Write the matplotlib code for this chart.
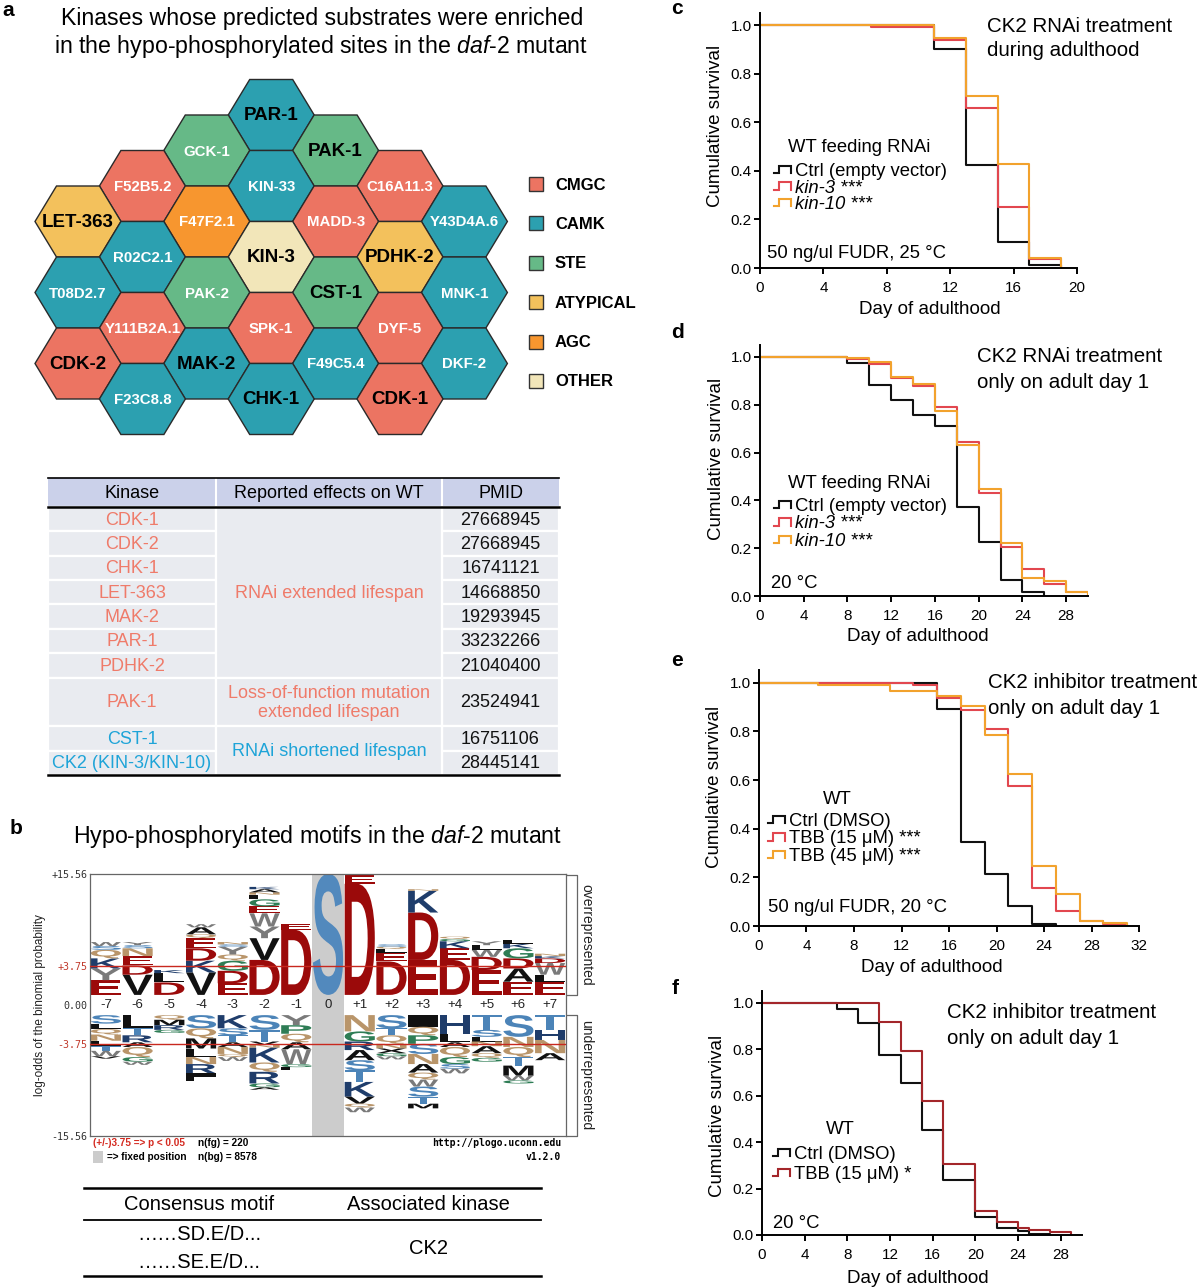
import numpy as np
import matplotlib
matplotlib.use('Agg')
import matplotlib.pyplot as plt
from matplotlib.patches import Polygon, Rectangle, PathPatch
from matplotlib.textpath import TextPath
from matplotlib.font_manager import FontProperties, fontManager
from matplotlib.transforms import Affine2D
from matplotlib.lines import Line2D
from matplotlib.legend_handler import HandlerBase
from matplotlib.ticker import FormatStrFormatter

_names = {f.name for f in fontManager.ttflist}
NARROW_OK = 'Liberation Sans Narrow' in _names
plt.rcParams['font.family'] = ['Liberation Sans', 'DejaVu Sans']
plt.rcParams['mathtext.fontset'] = 'custom'
plt.rcParams['mathtext.rm'] = 'Liberation Sans Narrow' if NARROW_OK else 'Liberation Sans'
plt.rcParams['mathtext.it'] = ('Liberation Sans Narrow:italic' if NARROW_OK else 'Liberation Sans:italic')
NARROW = ['Liberation Sans Narrow', 'Liberation Sans', 'DejaVu Sans'] if NARROW_OK else ['Liberation Sans', 'DejaVu Sans']

# ======================= DATA =======================
# --- panel a: kinase hexagon map ---
hex_names = ['PAR-1', 'GCK-1', 'PAK-1', 'F52B5.2', 'KIN-33', 'C16A11.3', 'LET-363', 'F47F2.1', 'MADD-3',
             'Y43D4A.6', 'R02C2.1', 'KIN-3', 'PDHK-2', 'T08D2.7', 'PAK-2', 'CST-1', 'MNK-1', 'Y111B2A.1',
             'SPK-1', 'DYF-5', 'CDK-2', 'MAK-2', 'F49C5.4', 'DKF-2', 'F23C8.8', 'CHK-1', 'CDK-1']
hex_col = [3, 2, 4, 1, 3, 5, 0, 2, 4, 6, 1, 3, 5, 0, 2, 4, 6, 1, 3, 5, 0, 2, 4, 6, 1, 3, 5]
hex_row = [0, 1, 1, 2, 2, 2, 3, 3, 3, 3, 4, 4, 4, 5, 5, 5, 5, 6, 6, 6, 7, 7, 7, 7, 8, 8, 8]
hex_family = ['CAMK', 'STE', 'STE', 'CMGC', 'CAMK', 'CMGC', 'ATYPICAL', 'AGC', 'CMGC',
              'CAMK', 'CAMK', 'OTHER', 'ATYPICAL', 'CAMK', 'STE', 'STE', 'CAMK', 'CMGC',
              'CMGC', 'CMGC', 'CMGC', 'CAMK', 'CAMK', 'CAMK', 'CAMK', 'CAMK', 'CMGC']
hex_bold = ['PAR-1', 'PAK-1', 'LET-363', 'KIN-3', 'PDHK-2', 'CST-1', 'CDK-2', 'MAK-2', 'CHK-1', 'CDK-1']
families = ['CMGC', 'CAMK', 'STE', 'ATYPICAL', 'AGC', 'OTHER']
family_colors = ['#EC7462', '#2CA0B0', '#66B987', '#F3C15C', '#F7962F', '#F2E6B9']

# --- panel a: table ---
table_header = ['Kinase', 'Reported effects on WT', 'PMID']
table_kinases = ['CDK-1', 'CDK-2', 'CHK-1', 'LET-363', 'MAK-2', 'PAR-1', 'PDHK-2', 'PAK-1', 'CST-1',
                 'CK2 (KIN-3/KIN-10)']
table_pmids = ['27668945', '27668945', '16741121', '14668850', '19293945', '33232266', '21040400',
               '23524941', '16751106', '28445141']
table_row_units = [1, 1, 1, 1, 1, 1, 1, 2, 1, 1]
table_kinase_group = ['ext', 'ext', 'ext', 'ext', 'ext', 'ext', 'ext', 'ext', 'short', 'short']
table_effects = [('RNAi extended lifespan', 0, 7, 'ext'),
                 ('Loss-of-function mutation\nextended lifespan', 7, 8, 'ext'),
                 ('RNAi shortened lifespan', 8, 10, 'short')]

# --- panel b: pLogo (letter, log-odds height); over = stacked upward, under = stacked downward ---
logo_positions = ['-7', '-6', '-5', '-4', '-3', '-2', '-1', '0', '+1', '+2', '+3', '+4', '+5', '+6', '+7']
logo_over = [
    [('E', 1.9), ('Y', 1.5), ('K', 1.3), ('Q', 1.1), ('S', 0.5), ('W', 0.5)],
    [('V', 2.6), ('D', 1.2), ('E', 1.2), ('N', 1.0), ('S', 0.4), ('Y', 0.4)],
    [('D', 1.6), ('L', 1.2), ('K', 0.4)],
    [('V', 2.9), ('K', 1.5), ('D', 1.6), ('E', 1.3), ('Q', 0.5), ('A', 0.9), ('W', 0.4)],
    [('E', 1.5), ('D', 1.6), ('G', 1.3), ('Q', 0.8), ('Y', 1.0), ('S', 0.3), ('N', 0.3)],
    [('D', 4.5), ('V', 2.8), ('Y', 1.5), ('W', 1.7), ('E', 0.9), ('G', 0.9), ('L', 0.6), ('N', 0.3),
     ('A', 0.4), ('K', 0.3)],
    [('D', 8.4), ('E', 0.7)],
    [('S', 15.56)],
    [('D', 14.3), ('E', 1.1)],
    [('D', 4.3), ('E', 1.1), ('L', 0.5), ('Q', 0.3), ('S', 0.3)],
    [('E', 4.5), ('D', 6.1), ('K', 2.8), ('N', 0.2)],
    [('D', 4.5), ('E', 1.5), ('K', 0.9), ('G', 0.3), ('Q', 0.3)],
    [('E', 3.2), ('D', 1.7), ('W', 0.9), ('L', 0.6), ('Y', 0.5)],
    [('E', 1.7), ('A', 1.7), ('D', 1.3), ('G', 1.3), ('K', 0.6), ('L', 0.5)],
    [('E', 1.7), ('L', 0.9), ('W', 1.5), ('D', 0.6), ('K', 0.3), ('N', 0.3)],
]
logo_under = [
    [('S', 1.1), ('L', 0.7), ('Q', 0.7), ('N', 0.8), ('L', 0.7), ('T', 0.6), ('W', 0.7), ('V', 0.3)],
    [('L', 1.7), ('T', 0.9), ('R', 0.9), ('A', 0.6), ('Q', 1.3), ('G', 0.6), ('W', 0.4)],
    [('Q', 0.6), ('M', 0.7), ('R', 0.6), ('G', 0.4)],
    [('S', 1.7), ('Q', 1.3), ('M', 1.3), ('L', 1.1), ('N', 0.9), ('R', 1.2), ('I', 0.5), ('L', 0.5)],
    [('K', 1.7), ('S', 0.9), ('T', 0.9), ('A', 0.6), ('N', 0.9), ('Q', 0.4), ('W', 0.5)],
    [('S', 1.9), ('T', 1.5), ('V', 0.4), ('N', 0.4), ('K', 1.9), ('Q', 1.2), ('R', 1.5), ('G', 0.5),
     ('A', 0.3)],
    [('Y', 1.3), ('P', 1.1), ('Q', 1.1), ('A', 0.9), ('W', 1.9), ('G', 0.4), ('L', 0.4)],
    [],
    [('N', 2.1), ('G', 1.3), ('R', 1.1), ('A', 1.3), ('S', 1.3), ('T', 1.5), ('K', 1.9), ('V', 0.9),
     ('Q', 0.5), ('W', 0.6)],
    [('S', 1.7), ('T', 0.9), ('Q', 1.1), ('N', 0.6), ('X', 0.6), ('G', 0.4), ('W', 0.4)],
    [('I', 1.5), ('Q', 1.1), ('P', 1.1), ('S', 1.3), ('N', 1.3), ('A', 1.1), ('Q', 0.9), ('W', 0.9),
     ('S', 1.3), ('T', 0.9), ('M', 0.6)],
    [('H', 2.4), ('L', 1.1), ('A', 0.6), ('Q', 1.3), ('G', 0.9), ('S', 0.6), ('W', 0.6)],
    [('T', 1.9), ('S', 0.9), ('L', 0.6), ('N', 0.6), ('A', 0.9), ('Q', 0.6), ('G', 0.5)],
    [('S', 2.8), ('N', 1.3), ('Q', 1.3), ('T', 1.1), ('M', 1.3), ('W', 0.6), ('G', 0.4)],
    [('T', 1.9), ('H', 1.3), ('N', 1.7), ('A', 0.9)],
]
logo_max = 15.56
logo_sig = 3.75
motif_rows = ['……SD.E/D...', '……SE.E/D...']
motif_kinase = 'CK2'

# --- panels c-f: survival curves (Kaplan-Meier steps) ---
c_ctrl_d = [0, 11, 13, 15, 17, 19];            c_ctrl = [1.0, 0.90, 0.425, 0.105, 0.014, 0.0]
c_kin3_d = [0, 7, 11, 13, 15, 17, 19];         c_kin3 = [1.0, 0.993, 0.94, 0.66, 0.25, 0.035, 0.0]
c_kin10_d = [0, 11, 13, 15, 17, 19];           c_kin10 = [1.0, 0.945, 0.71, 0.43, 0.04, 0.0]

d_ctrl_d = [0, 8, 10, 12, 14, 16, 18, 20, 22, 24, 26]
d_ctrl = [1.0, 0.976, 0.884, 0.821, 0.759, 0.712, 0.373, 0.224, 0.069, 0.015, 0.0]
d_kin_d = [0, 8, 10, 12, 14, 16, 18, 20, 22, 24, 26, 28, 30]
d_kin3 = [1.0, 0.99, 0.97, 0.91, 0.88, 0.79, 0.646, 0.43, 0.203, 0.113, 0.052, 0.017, 0.0]
d_kin10 = [1.0, 0.997, 0.977, 0.918, 0.885, 0.772, 0.631, 0.447, 0.222, 0.075, 0.062, 0.017, 0.0]

e_ctrl_d = [0, 15, 17, 19, 21, 23, 25];        e_ctrl = [1.0, 0.89, 0.345, 0.214, 0.082, 0.01, 0.0]
e_15_d = [0, 13, 15, 17, 19, 21, 23, 25, 27, 29, 31]
e_15 = [1.0, 0.99, 0.936, 0.888, 0.808, 0.575, 0.155, 0.063, 0.02, 0.01, 0.0]
e_45_d = [0, 5, 11, 15, 17, 19, 21, 23, 25, 27, 29, 31]
e_45 = [1.0, 0.99, 0.967, 0.947, 0.904, 0.785, 0.623, 0.247, 0.13, 0.02, 0.011, 0.0]

f_ctrl_d = [0, 7, 9, 11, 13, 15, 17, 20, 22, 24, 25, 27]
f_ctrl = [1.0, 0.971, 0.911, 0.776, 0.656, 0.452, 0.237, 0.079, 0.029, 0.017, 0.006, 0.0]
f_tbb_d = [0, 11, 13, 15, 17, 20, 22, 24, 25, 27, 29]
f_tbb = [1.0, 0.915, 0.79, 0.575, 0.304, 0.105, 0.057, 0.03, 0.023, 0.014, 0.0]

# ======================= STYLE =======================
W, H = 1200, 1287
SALMON = '#EF7B6A'
CYAN = '#1EA4D8'
BLACK = '#111111'
RED = '#E2474F'
ORANGE = '#F2A22D'
DARKRED = '#A3262A'
res_color = {'D': '#9B0A0A', 'E': '#9B0A0A', 'K': '#1F3D6B', 'R': '#1F3D6B', 'H': '#1F3D6B',
             'S': '#4C84B8', 'T': '#4C84B8', 'N': '#B9956A', 'Q': '#B9956A', 'G': '#2E7D55',
             'P': '#2E7D55', 'A': '#111111', 'V': '#111111', 'L': '#111111', 'I': '#111111',
             'M': '#111111', 'X': '#111111', 'Y': '#7A7A7A', 'W': '#7A7A7A'}

fig = plt.figure(figsize=(W / 100, H / 100), dpi=100)
canvas = fig.add_axes([0, 0, 1, 1])
canvas.set_xlim(0, W)
canvas.set_ylim(H, 0)
canvas.axis('off')


def add_ax_px(left, top, right, bottom):
    return fig.add_axes([left / W, 1 - bottom / H, (right - left) / W, (bottom - top) / H])


def fit_width(t, target):
    r = fig.canvas.get_renderer()
    w = t.get_window_extent(r).width
    t.set_fontsize(t.get_fontsize() * target / w)


# ---------------- panel labels ----------------
for lab, (lx, ly) in zip('abcdef', [(8, 10), (16, 828), (677, 8), (677, 333), (677, 660), (675, 988)]):
    canvas.text(lx, ly, lab, fontsize=15, fontweight='bold', ha='center', va='center')

# ---------------- panel a title ----------------
t1 = canvas.text(322, 18, 'Kinases whose predicted substrates were enriched', ha='center', va='center',
                 fontsize=16, family=NARROW)
t2 = canvas.text(321, 46, r'in the hypo-phosphorylated sites in the $\mathit{daf}$-$\mathit{2}$ mutant',
                 ha='center', va='center', fontsize=16, family=NARROW)
fit_width(t1, 523)
fit_width(t2, 534)

# ---------------- hexagons ----------------
hx0, hdx, hy0, hdy = 78, 64.4, 115, 35.5
R, HH = 43, 35.5
fam_col = dict(zip(families, family_colors))
for name, c, r, fam in zip(hex_names, hex_col, hex_row, hex_family):
    cx, cy = hx0 + c * hdx, hy0 + r * hdy
    verts = [(cx - R, cy), (cx - R / 2, cy - HH), (cx + R / 2, cy - HH), (cx + R, cy),
             (cx + R / 2, cy + HH), (cx - R / 2, cy + HH)]
    canvas.add_patch(Polygon(verts, closed=True, fc=fam_col[fam], ec='#2A2A2A', lw=1.0))
    if name in hex_bold:
        canvas.text(cx, cy + 1, name, ha='center', va='center', fontsize=13.5, fontweight='bold', color='black')
    else:
        canvas.text(cx, cy + 1, name, ha='center', va='center', fontsize=10.8, fontweight='bold', color='white')

for i, (fam, colr) in enumerate(zip(families, family_colors)):
    yy = 184 + i * 39.4
    canvas.add_patch(Rectangle((529, yy - 7), 14, 14, fc=colr, ec='#333333', lw=1.0))
    canvas.text(555, yy + 1, fam, ha='left', va='center', fontsize=12, fontweight='bold')

# ---------------- table a ----------------
tx = [48, 216, 442, 559]
th_top, th_bot, t_bot = 478, 507, 775
unit = (t_bot - th_bot) / sum(table_row_units)
canvas.add_patch(Rectangle((tx[0], th_top), tx[3] - tx[0], th_bot - th_top, fc='#CBD1EA', ec='none'))
for j, hd in enumerate(table_header):
    canvas.text((tx[j] + tx[j + 1]) / 2, (th_top + th_bot) / 2 + 1, hd, ha='center', va='center', fontsize=13)
    if j > 0:
        canvas.plot([tx[j], tx[j]], [th_top, th_bot], color='white', lw=1.5)
row_tops = th_bot + unit * np.concatenate([[0], np.cumsum(table_row_units)])
CELL = '#E9EBF0'
grp_col = {'ext': SALMON, 'short': CYAN}
for i, (kn, pm, grp) in enumerate(zip(table_kinases, table_pmids, table_kinase_group)):
    y0, y1 = row_tops[i], row_tops[i + 1]
    for (xa, xb) in [(tx[0], tx[1]), (tx[2], tx[3])]:
        canvas.add_patch(Rectangle((xa, y0), xb - xa, y1 - y0, fc=CELL, ec='white', lw=1.6))
    canvas.text((tx[0] + tx[1]) / 2, (y0 + y1) / 2 + 1, kn, ha='center', va='center', fontsize=13,
                color=grp_col[grp])
    canvas.text((tx[2] + tx[3]) / 2, (y0 + y1) / 2 + 1, pm, ha='center', va='center', fontsize=13, color=BLACK)
for txt, a, b, grp in table_effects:
    y0, y1 = row_tops[a], row_tops[b]
    canvas.add_patch(Rectangle((tx[1], y0), tx[2] - tx[1], y1 - y0, fc=CELL, ec='white', lw=1.6))
    canvas.text((tx[1] + tx[2]) / 2, (y0 + y1) / 2 + 1, txt, ha='center', va='center', fontsize=13,
                color=grp_col[grp], linespacing=1.2)
canvas.plot([tx[0], tx[3]], [th_top, th_top], color='black', lw=1.2)
canvas.plot([tx[0], tx[3]], [th_bot, th_bot], color='black', lw=1.8)
canvas.plot([tx[0], tx[3]], [t_bot, t_bot], color='black', lw=1.8)

# ---------------- panel b title ----------------
tb = canvas.text(318, 837, r'Hypo-phosphorylated motifs in the $\mathit{daf}$-$\mathit{2}$ mutant',
                 ha='center', va='center', fontsize=16, family=NARROW)
fit_width(tb, 489)

# ---------------- pLogo ----------------
G = 1.3
lax = add_ax_px(90, 874, 566, 1136)
lax.set_xlim(-7.5, 7.5)
lax.set_ylim(-(logo_max + G), logo_max + G)
lax.patch.set_alpha(0)
for s in lax.spines.values():
    s.set_color('#666666')
    s.set_linewidth(0.9)
lax.set_xticks([])
lax.set_yticks([logo_max + G, logo_sig + G, 0, -logo_sig - G, -logo_max - G])
lax.set_yticklabels(['+15.56', '+3.75', '0.00', '-3.75', '-15.56'], family='DejaVu Sans Mono', fontsize=7.2)
for tl, cc in zip(lax.get_yticklabels(), ['#333333', '#C0392B', '#333333', '#C0392B', '#333333']):
    tl.set_color(cc)
lax.tick_params(axis='y', length=0, pad=2)
xpos = np.arange(-7, 8)
lax.axvspan(-0.5, 0.5, color='#CCCCCC', lw=0, zorder=0)
LFP = FontProperties(family='Liberation Sans', weight='bold')
_pc = {}


def draw_letter(ax, ch, xc, y0, h, color, wfrac=0.95):
    if ch not in _pc:
        _pc[ch] = TextPath((0, 0), ch, size=1, prop=LFP)
    tp = _pc[ch]
    ext = tp.get_extents()
    tr = Affine2D().translate(-ext.x0, -ext.y0).scale(wfrac / ext.width, h / ext.height).translate(xc - wfrac / 2, y0)
    ax.add_patch(PathPatch(tr.transform_path(tp), fc=color, ec='none', lw=0, zorder=2))


for xp, lab, over, under in zip(xpos, logo_positions, logo_over, logo_under):
    cur = G
    for ch, h in over:
        colr = '#5289BD' if lab == '0' else res_color[ch]
        draw_letter(lax, ch, xp, cur, h, colr)
        cur += h
    cur = -G
    for ch, h in under:
        draw_letter(lax, ch, xp, cur - h, h, res_color[ch])
        cur -= h
    lax.text(xp, 0, lab, ha='center', va='center', fontsize=9.5, color='#222222')
lax.axhline(logo_sig + G, color='#C8281E', lw=1.0, zorder=3)
lax.axhline(-logo_sig - G, color='#C8281E', lw=1.0, zorder=3)
lax.text(-0.105, 0.5, 'log-odds of the binomial probability', transform=lax.transAxes, rotation=90,
         ha='center', va='center', fontsize=8.5, color='#222222')

# brackets
for (ya, yb), lab in zip([(875, 995), (1015, 1136)], ['overrepresented', 'underrepresented']):
    canvas.plot([567, 577, 577, 567], [ya, ya, yb, yb], color='#666666', lw=0.9)
    canvas.text(586, (ya + yb) / 2, lab, rotation=-90, ha='center', va='center', fontsize=10, color='#222222')

canvas.text(93, 1143, '(+/-)3.75 => p < 0.05', color='#D42A20', fontsize=7.2, fontweight='bold',
            ha='left', va='center', family=NARROW)
canvas.text(198, 1143, 'n(fg) = 220', fontsize=7.2, fontweight='bold', ha='left', va='center', family=NARROW)
canvas.add_patch(Rectangle((93, 1151), 10, 12, fc='#CCCCCC', ec='none'))
canvas.text(107, 1157, '=> fixed position', fontsize=7.2, fontweight='bold', ha='left', va='center', family=NARROW)
canvas.text(198, 1157, 'n(bg) = 8578', fontsize=7.2, fontweight='bold', ha='left', va='center', family=NARROW)
canvas.text(561, 1143, 'http://plogo.uconn.edu', fontsize=7, fontweight='bold', ha='right', va='center',
            family='DejaVu Sans Mono')
canvas.text(561, 1157, 'v1.2.0', fontsize=7, fontweight='bold', ha='right', va='center', family='DejaVu Sans Mono')

# motif table
canvas.plot([84, 541], [1188, 1188], color='black', lw=1.8)
canvas.plot([84, 541], [1220, 1220], color='black', lw=1.3)
canvas.plot([84, 541], [1276, 1276], color='black', lw=1.8)
canvas.text(199, 1205, 'Consensus motif', ha='center', va='center', fontsize=14.5)
canvas.text(428, 1205, 'Associated kinase', ha='center', va='center', fontsize=14.5)
for k, m in enumerate(motif_rows):
    canvas.text(199, 1235 + 27 * k, m, ha='center', va='center', fontsize=14.5)
canvas.text(428, 1248, motif_kinase, ha='center', va='center', fontsize=14.5)


# ---------------- survival panels ----------------
class StepGlyph(HandlerBase):
    def create_artists(self, legend, orig_handle, xdescent, ydescent, width, height, fontsize, trans):
        xs = np.array([0.0, 0.33, 0.33, 1.0, 1.0]) * width - xdescent
        ys = np.array([0.22, 0.22, 0.80, 0.80, 0.22]) * height - ydescent
        ln = Line2D(xs, ys, color=orig_handle.get_color(), lw=orig_handle.get_linewidth(),
                    solid_joinstyle='miter')
        ln.set_transform(trans)
        return [ln]


def surv_axes(box, xmax, ylab_px, xlab_px):
    left, top, right, bottom = box
    ax = add_ax_px(left, top, right, bottom)
    ax.set_xlim(0, xmax)
    ax.set_ylim(0, 1.05)
    ax.patch.set_alpha(0)
    ax.spines[['top', 'right']].set_visible(False)
    for s in ['left', 'bottom']:
        ax.spines[s].set_linewidth(1.4)
    ax.set_xticks(np.arange(0, xmax + 0.1, 4))
    ax.set_yticks([0, 0.2, 0.4, 0.6, 0.8, 1.0])
    ax.yaxis.set_major_formatter(FormatStrFormatter('%.1f'))
    ax.tick_params(direction='out', length=4, width=1.4, labelsize=11)
    ax.tick_params(axis='x', pad=5.5)
    ax.tick_params(axis='y', pad=2)
    ax.set_ylabel('Cumulative survival', fontsize=13.5)
    ax.set_xlabel('Day of adulthood', fontsize=13.5)
    # label anchor: ylabel right edge / xlabel top edge
    ax.yaxis.set_label_coords((ylab_px[0] + 11 - left) / (right - left), (bottom - ylab_px[1]) / (bottom - top))
    ax.xaxis.set_label_coords((xlab_px[0] - left) / (right - left), (bottom - (xlab_px[1] - 7)) / (bottom - top))
    return ax


def surv_legend(ax, handles, labels, left_px, top_px, spacing, italic=()):
    leg = ax.legend(handles, labels, loc='upper left', bbox_to_anchor=(left_px / W, 1 - top_px / H),
                    bbox_transform=fig.transFigure, frameon=False, borderpad=0, borderaxespad=0,
                    handlelength=0.9, handletextpad=0.22, handleheight=0.7, labelspacing=spacing,
                    fontsize=13.3, handler_map={Line2D: StepGlyph()})
    for i in italic:
        leg.get_texts()[i].set_fontstyle('italic')
    return leg


def titles(x, ys, lines):
    for y, s in zip(ys, lines):
        canvas.text(x, y, s, ha='left', va='center', fontsize=14.8)


LW = 1.5
# c
axc = surv_axes((760, 12.9, 1077, 268), 20, (713, 126), (930, 308))
hc = [axc.step(c_ctrl_d, c_ctrl, where='post', color=BLACK, lw=LW)[0],
      axc.step(c_kin3_d, c_kin3, where='post', color=RED, lw=LW)[0],
      axc.step(c_kin10_d, c_kin10, where='post', color=ORANGE, lw=LW)[0]]
surv_legend(axc, hc, ['Ctrl (empty vector)', 'kin-3 ***', 'kin-10 ***'], 774, 163, -0.027, italic=(1, 2))
canvas.text(859, 148, 'WT feeding RNAi', ha='center', va='center', fontsize=13.3)
titles(987, [26, 51], ['CK2 RNAi treatment', 'during adulthood'])
canvas.text(767, 253, '50 ng/ul FUDR, 25 °C', ha='left', va='center', fontsize=13.3)

# d
axd = surv_axes((760, 345, 1088, 596), 30, (714, 459), (918, 635))
hd = [axd.step(d_ctrl_d, d_ctrl, where='post', color=BLACK, lw=LW)[0],
      axd.step(d_kin_d, d_kin3, where='post', color=RED, lw=LW)[0],
      axd.step(d_kin_d, d_kin10, where='post', color=ORANGE, lw=LW)[0]]
surv_legend(axd, hd, ['Ctrl (empty vector)', 'kin-3 ***', 'kin-10 ***'], 774, 498, 0.027, italic=(1, 2))
canvas.text(859, 484, 'WT feeding RNAi', ha='center', va='center', fontsize=13.3)
titles(977, [357, 383], ['CK2 RNAi treatment', 'only on adult day 1'])
canvas.text(771, 583, '20 °C', ha='left', va='center', fontsize=13.3)

# e
axe = surv_axes((759, 670.5, 1139, 926), 32, (712, 787), (932, 966))
he = [axe.step(e_ctrl_d, e_ctrl, where='post', color=BLACK, lw=LW)[0],
      axe.step(e_15_d, e_15, where='post', color=RED, lw=LW)[0],
      axe.step(e_45_d, e_45, where='post', color=ORANGE, lw=LW)[0]]
surv_legend(axe, he, ['Ctrl (DMSO)', 'TBB (15 μM) ***', 'TBB (45 μM) ***'], 768, 813, 0.027)
canvas.text(837, 799, 'WT', ha='center', va='center', fontsize=13.3)
titles(988, [683, 708], ['CK2 inhibitor treatment', 'only on adult day 1'])
canvas.text(768, 907, '50 ng/ul FUDR, 20 °C', ha='left', va='center', fontsize=13.3)

# f
axf = surv_axes((762, 991, 1082, 1235), 30, (715, 1116), (918, 1277))
hf = [axf.step(f_ctrl_d, f_ctrl, where='post', color=BLACK, lw=LW)[0],
      axf.step(f_tbb_d, f_tbb, where='post', color=DARKRED, lw=LW)[0]]
surv_legend(axf, hf, ['Ctrl (DMSO)', 'TBB (15 μM) *'], 773, 1146, 0.16)
canvas.text(840, 1130, 'WT', ha='center', va='center', fontsize=13.3)
titles(947, [1013, 1038], ['CK2 inhibitor treatment', 'only on adult day 1'])
canvas.text(773, 1223, '20 °C', ha='left', va='center', fontsize=13.3)

fig.savefig('out.png', dpi=100)
